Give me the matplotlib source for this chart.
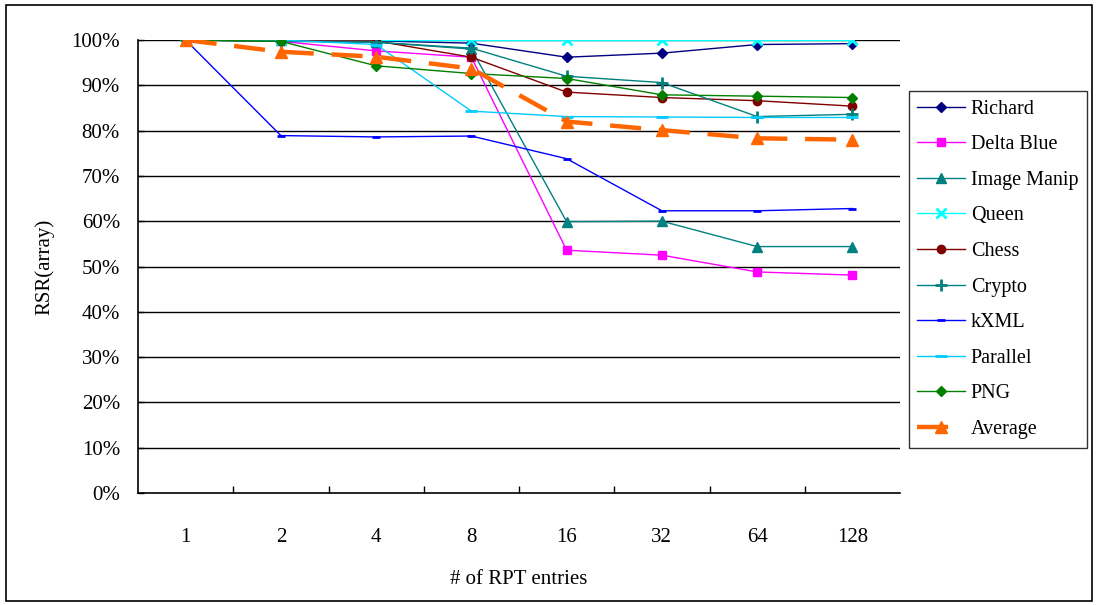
import matplotlib
matplotlib.use("Agg")
import matplotlib.pyplot as plt
from matplotlib.patches import Rectangle
from matplotlib.ticker import FixedLocator, PercentFormatter

plt.rcParams['font.family'] = ['Liberation Serif', 'DejaVu Serif']

# RPT entry counts (categorical x axis)
categories = ["1", "2", "4", "8", "16", "32", "64", "128"]

# RSR(array) in percent per benchmark
richard     = [100, 99.8, 99.8, 99.3, 96.2, 97.1, 99.0, 99.2]
delta_blue  = [100, 99.7, 97.6, 96.2, 53.6, 52.5, 48.8, 48.1]
image_manip = [100, 100.0, 99.5, 98.0, 59.9, 60.0, 54.4, 54.4]
queen       = [100, 100.0, 100.0, 100.0, 100.0, 100.0, 100.0, 100.0]
chess       = [100, 99.8, 99.8, 96.2, 88.5, 87.3, 86.6, 85.4]
crypto      = [100, 99.7, 99.5, 98.2, 92.0, 90.6, 83.1, 83.6]
kxml        = [100, 78.9, 78.6, 78.8, 73.8, 62.3, 62.3, 62.8]
parallel    = [100, 100.0, 99.0, 84.3, 83.1, 83.0, 82.9, 82.9]
png         = [100, 99.7, 94.3, 92.6, 91.5, 87.9, 87.6, 87.3]
average     = [100, 97.4, 96.3, 93.7, 82.0, 80.1, 78.3, 78.0]

series = [
    ("Richard", richard, "#000080", "D", 5, 1.0),
    ("Delta Blue", delta_blue, "#FF00FF", "s", 6, 1.0),
    ("Image Manip", image_manip, "#008080", "^", 7, 1.0),
    ("Queen", queen, "#00FFFF", "x", 7, 1.0),
    ("Chess", chess, "#800000", "o", 6, 1.0),
    ("Crypto", crypto, "#008080", "+", 9, 1.0),
    ("kXML", kxml, "#0000FF", "_", 6, 1.0),
    ("Parallel", parallel, "#00CCFF", "_", 8, 1.0),
    ("PNG", png, "#008000", "D", 5, 1.0),
]

FS = 15

fig = plt.figure(figsize=(10.96, 6.05), dpi=100)
ax = fig.add_axes([138 / 1096, 1 - 493 / 605, 762 / 1096, 453 / 605])

x = list(range(len(categories)))
for name, vals, color, marker, ms, lw in series:
    mew = 2.0 if marker in ("_", "+", "x") else 1.0
    ax.plot(x, vals, color=color, lw=lw, marker=marker, ms=ms,
            mew=mew, label=name, zorder=3)

ax.plot(x, average, color="#FF6600", lw=3.2, marker="^", ms=8,
        dashes=(7, 4), label="Average", zorder=4)

ax.set_xlim(-0.5, len(categories) - 0.5)
ax.set_ylim(0, 100)

ax.set_xticks(x)
ax.set_xticklabels(categories)
ax.xaxis.set_minor_locator(FixedLocator([i + 0.5 for i in range(len(categories) - 1)]))
ax.tick_params(axis="x", which="major", length=0, pad=25, labelsize=FS)
ax.tick_params(axis="x", which="minor", direction="in", length=5, width=1, color="black")

ax.set_yticks(range(0, 101, 10))
ax.yaxis.set_major_formatter(PercentFormatter(decimals=0))
ax.tick_params(axis="y", direction="in", length=4, width=1, pad=13, labelsize=FS)

for v in range(10, 101, 10):
    ax.axhline(v, color="black", lw=1.0, zorder=1)

for side in ("top", "right"):
    ax.spines[side].set_visible(False)
for side in ("left", "bottom"):
    ax.spines[side].set_linewidth(1.2)

ax.set_xlabel("# of RPT entries", fontsize=FS, labelpad=17)
ax.set_ylabel("RSR(array)", fontsize=FS, labelpad=12)

leg = ax.legend(loc="upper left", bbox_to_anchor=(909 / 1096, 1 - 91 / 605),
                bbox_transform=fig.transFigure, fontsize=14.5, frameon=True,
                fancybox=False, edgecolor="black", handlelength=2.35,
                labelspacing=0.82, borderpad=0.42, handletextpad=0.3,
                borderaxespad=0)
leg.get_frame().set_linewidth(1.0)

fig.patches.append(Rectangle((6 / 1096, 4 / 605), 1086 / 1096, 596 / 605,
                             transform=fig.transFigure, fill=False,
                             edgecolor="black", lw=1.2))

fig.savefig("out.png", dpi=100, facecolor="white")
